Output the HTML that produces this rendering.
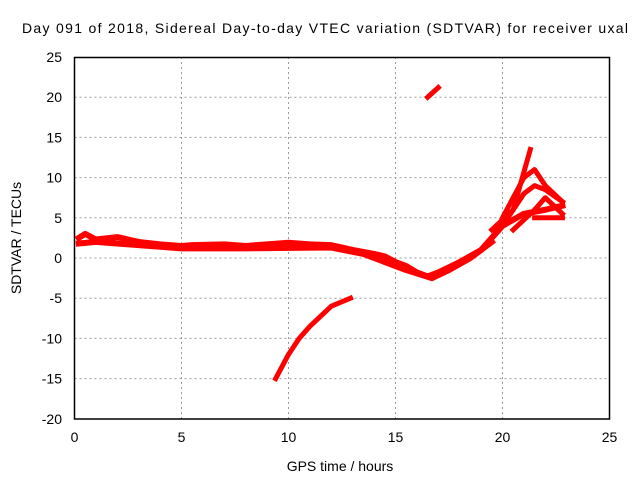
<!DOCTYPE html>
<html><head><meta charset="utf-8"><style>body{margin:0;background:#fff}svg{display:block;font-family:"Liberation Sans",sans-serif}</style></head>
<body>
<svg id="chart" width="640" height="480">
<text x="325" y="33" font-size="14" text-anchor="middle" textLength="606">Day 091 of 2018, Sidereal Day-to-day VTEC variation (SDTVAR) for receiver uxal</text>
<text x="340" y="471" font-size="14" text-anchor="middle">GPS time / hours</text>
<text transform="translate(21,238) rotate(-90)" font-size="14" text-anchor="middle">SDTVAR / TECUs</text>
<g id="grid"></g><g id="ticks"></g><g id="marks"></g>
<rect x="74.5" y="57.5" width="535" height="361.5" fill="none" stroke="#000" stroke-width="1.5"/>
</svg>
<script>
const xTicks=[0,5,10,15,20,25];
const yTicks=[-20,-15,-10,-5,0,5,10,15,20,25];
const trackMain=[[0.2,2.5],[0.5,3],[1,2.3],[2,2.6],[3,2],[4,1.7],[5,1.5],[5.5,1.6],[7,1.7],[8,1.5],[9,1.7],[10,1.9],[11,1.7],[12,1.6],[13,1],[14,0.5],[14.5,0.2],[15,-0.5],[15.5,-1],[16,-1.8],[16.5,-2.3],[17,-1.8],[18,-0.5],[19,1],[19.5,2.5],[20,4],[21,5.5],[22,6],[22.8,6.5]];
const trackMain2=[[0.2,1.8],[1,2],[3,1.6],[5,1.2],[8,1.2],[12,1.3],[13.5,0.5],[14.5,-0.5],[15.5,-1.5],[16.7,-2.5],[17.5,-1.5],[18.5,0],[19.5,2]];
const trackLow=[[9.4,-15],[10,-12],[10.5,-10],[11,-8.5],[12,-6],[12.9,-5]];
const trackHigh=[[16.5,20],[17,21.2]];
const trackRise1=[[19.5,3.5],[20.5,6],[21.3,13.5]];
const trackRise2=[[20,4],[21,8],[21.5,9],[22,8.5],[22.8,7]];
const trackRise3=[[20.5,3.5],[21.5,6],[22,7.5],[22.8,5.5]];
const trackRise4=[[20,5],[21,10],[21.5,11],[22,9],[22.8,7]];
const trackRise5=[[21.5,5],[22.8,5]];
const tracks=[trackMain,trackMain2,trackLow,trackHigh,trackRise1,trackRise2,trackRise3,trackRise4,trackRise5];
const X=v=>74.5+v*21.4, Y=v=>258-v*8.04;
const NS="http://www.w3.org/2000/svg";
const g=document.getElementById('grid'),t=document.getElementById('ticks'),m=document.getElementById('marks');
function mk(tag,attrs,parent){const e=document.createElementNS(NS,tag);for(const k in attrs)e.setAttribute(k,attrs[k]);parent.appendChild(e);return e;}
xTicks.forEach(v=>{
 if(v>0&&v<25){const l=mk('line',{x1:X(v),x2:X(v),y1:57,y2:419,stroke:'#999','stroke-dasharray':'2,3'},g);
 
 }
 const s=mk('text',{x:X(v),y:442,'font-size':14,'text-anchor':'middle'},t);s.textContent=v;
 
 
});
yTicks.forEach(v=>{
 if(v>-20&&v<25){const l=mk('line',{x1:74.5,x2:609.5,y1:Y(v),y2:Y(v),stroke:'#999','stroke-dasharray':'2,3'},g);
 
 }
 const s=mk('text',{x:62,y:Y(v)+5,'font-size':14,'text-anchor':'end'},t);s.textContent=v;
 
 
});
tracks.forEach((tr,i)=>{
 const p=mk('polyline',{points:tr.map(d=>X(d[0])+','+Y(d[1])).join(' '),fill:'none',stroke:'#f00','stroke-width':(i<2?6:5),'stroke-linejoin':'round','stroke-linecap':'square'},m);
 
 
});
</script>
</body></html>
